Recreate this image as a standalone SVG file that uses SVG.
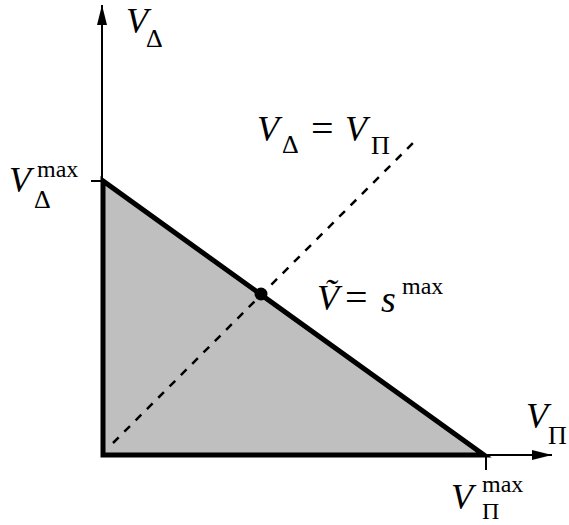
<svg xmlns="http://www.w3.org/2000/svg" width="569" height="525" viewBox="0 0 569 525">
<style>
.t{font-family:"Liberation Serif","Times New Roman",serif;fill:#000}
.v{font-style:italic;font-size:36px}
.eq{font-size:40px}
.sub{font-size:26px}
.sup{font-size:24px}
.ax{stroke:#000;stroke-width:2;fill:none}
</style>
<defs>
<marker id="arr" markerUnits="userSpaceOnUse" markerWidth="22" markerHeight="12" refX="20" refY="5" orient="auto" viewBox="0 0 22 12">
<path d="M0,0 L20,5 L0,10 Z" fill="#000"/>
</marker>
</defs>
<g id="region">
<polygon points="103,181 103,455 484,455" fill="#bfbfbf" stroke="#000" stroke-width="5" stroke-linejoin="miter"/>
</g>
<g id="connectors">
<line class="ax" x1="102" y1="181" x2="102" y2="5" marker-end="url(#arr)"/>
<line class="ax" x1="484" y1="455" x2="552" y2="455" marker-end="url(#arr)"/>
<line class="ax" x1="91" y1="181" x2="103" y2="181"/>
<line class="ax" x1="486" y1="456" x2="486" y2="470"/>
<line x1="113" y1="443" x2="413" y2="143" stroke="#000" stroke-width="2.5" stroke-dasharray="8 8"/>
</g>
<g id="point">
<circle cx="261" cy="294" r="6.5" fill="#000"/>
</g>
<g id="label-vdelta">
<text class="t"><tspan class="v" x="126" y="33">V</tspan><tspan class="sub" x="146" y="47">Δ</tspan></text>
</g>
<g id="label-vdelta-max">
<text class="t"><tspan class="v" x="9" y="192">V</tspan><tspan class="sup" x="37" y="177">max</tspan><tspan class="sub" x="34" y="208">Δ</tspan></text>
</g>
<g id="label-diag">
<text class="t"><tspan class="v" x="257" y="141">V</tspan><tspan class="sub" x="282" y="153">Δ</tspan><tspan class="eq" x="311" y="142">=</tspan><tspan class="v" x="345" y="141">V</tspan><tspan class="sub" x="371" y="154">Π</tspan></text>
</g>
<g id="label-smax">
<text class="t"><tspan class="v" x="317" y="310">Ṽ</tspan><tspan class="eq" x="345" y="311">=</tspan><tspan class="v" x="381" y="312" style="font-size:38px">s</tspan><tspan class="sup" x="402" y="294">max</tspan></text>
</g>
<g id="label-vpi">
<text class="t"><tspan class="v" x="526" y="428">V</tspan><tspan class="sub" x="548" y="444">Π</tspan></text>
</g>
<g id="label-vpi-max">
<text class="t"><tspan class="v" x="451" y="509">V</tspan><tspan class="sup" x="482" y="492">max</tspan><tspan x="482" y="519" style="font-size:24px">Π</tspan></text>
</g>
</svg>
